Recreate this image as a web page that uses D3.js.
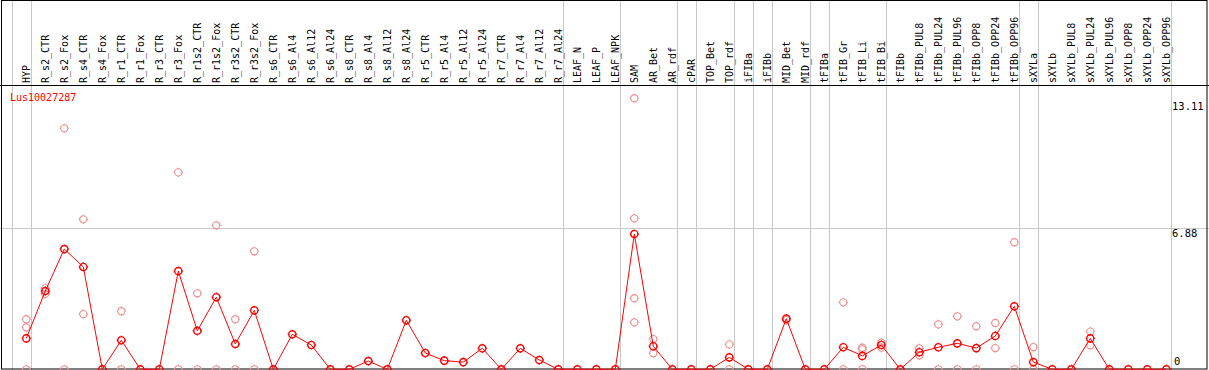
<!DOCTYPE html>
<html>
<head>
	<title>Lus10027287</title>
	<style>
		body { margin: 0; background: #fff; }
		text { font-family: "DejaVu Sans Mono", monospace; }
	</style>
</head>
<body>
<div id="chart"></div>
<script src="https://cdn.jsdelivr.net/npm/d3@7/dist/d3.min.js"></script>
<script type="text/javascript">

var gene = 'Lus10027287';

var labels = ['HYP', 'R_s2_CTR', 'R_s2_Fox', 'R_s4_CTR', 'R_s4_Fox', 'R_r1_CTR', 'R_r1_Fox',
    'R_r3_CTR', 'R_r3_Fox', 'R_r1s2_CTR', 'R_r1s2_Fox', 'R_r3s2_CTR', 'R_r3s2_Fox',
    'R_s6_CTR', 'R_s6_Al4', 'R_s6_Al12', 'R_s6_Al24', 'R_s8_CTR', 'R_s8_Al4', 'R_s8_Al12', 'R_s8_Al24',
    'R_r5_CTR', 'R_r5_Al4', 'R_r5_Al12', 'R_r5_Al24', 'R_r7_CTR', 'R_r7_Al4', 'R_r7_Al12', 'R_r7_Al24',
    'LEAF_N', 'LEAF_P', 'LEAF_NPK', 'SAM', 'AR_Bet', 'AR_rdf', 'cPAR', 'TOP_Bet', 'TOP_rdf',
    'iFIBa', 'iFIBb', 'MID_Bet', 'MID_rdf', 'tFIBa', 'tFIB_Gr', 'tFIB_Li', 'tFIB_Bi', 'tFIBb',
    'tFIBb_PUL8', 'tFIBb_PUL24', 'tFIBb_PUL96', 'tFIBb_OPP8', 'tFIBb_OPP24', 'tFIBb_OPP96',
    'sXYLa', 'sXYLb', 'sXYLb_PUL8', 'sXYLb_PUL24', 'sXYLb_PUL96', 'sXYLb_OPP8', 'sXYLb_OPP24', 'sXYLb_OPP96'];

// 平均值
var means = [1.50, 3.80, 5.84, 4.97, 0, 1.41, 0, 0, 4.77, 1.87, 3.50, 1.23, 2.86,
    0, 1.70, 1.18, 0, 0, 0.40, 0, 2.38, 0.79, 0.42, 0.35, 1.02, 0, 1.02, 0.45, 0,
    0, 0, 0, 6.57, 1.12, 0, 0, 0, 0.58, 0, 0, 2.46, 0, 0, 1.07, 0.65, 1.18, 0,
    0.83, 1.07, 1.26, 1.03, 1.62, 3.06, 0.35, 0, 0, 1.50, 0, 0, 0, 0];

// 重复样本 (visible ones only)
var replicates = [[2.43, 2.04, 0], [3.93, 3.66], [11.70, 0], [7.28, 2.68], [], [2.82, 0], [], [],
    [9.56, 0], [3.69, 0], [6.99, 0], [2.43, 0], [5.73, 0],
    [], [], [], [], [], [], [], [], [], [], [], [], [], [], [], [],
    [], [], [], [13.16, 7.33, 3.45, 2.28], [1.47, 0.78], [], [], [], [1.21, 0],
    [], [], [2.39], [], [], [3.25, 0], [1.05, 0.97, 0], [1.29, 1.05], [],
    [1.02, 0.68], [2.18, 0], [2.57, 0], [2.09, 0], [2.25, 1.03], [6.17, 0],
    [1.08, 0], [], [], [1.83, 1.17], [], [], [], []];

// group separators: drawn right after these column indexes
var separators = [-1, 0, 28, 31, 34, 35, 37, 38, 39, 41, 42, 45, 52, 53, 60];

var yTicks = [0, 6.88, 13.11];

var width = 1209, height = 370, headerBottom = 85.5;

var svg = d3.select('#chart')
.append('svg')
.attr('width', width)
.attr('height', height);

var xScale = d3.scaleLinear()
.domain([0, labels.length - 1])
.range([26.3, 1166.3]);

var yScale = d3.scaleLinear()
.domain([0, 13.11])
.range([369.3, 99.3]);

// 竖线
svg.selectAll('.sep')
.data(separators)
.enter()
.append('line')
.attr('x1', d => Math.round(xScale(d) + 4.4) + 0.5)
.attr('x2', d => Math.round(xScale(d) + 4.4) + 0.5)
.attr('y1', 0)
.attr('y2', height)
.attr('stroke', '#c8c8c8')
.attr('stroke-width', 1);

// 6.88 grid line
svg.append('line')
.attr('x1', 0)
.attr('x2', width)
.attr('y1', Math.round(yScale(6.88)) + 0.5)
.attr('y2', Math.round(yScale(6.88)) + 0.5)
.attr('stroke', '#c8c8c8');

// frame
svg.append('rect')
.attr('x', 1.5)
.attr('y', 0.5)
.attr('width', 1207 - 1.5)
.attr('height', 369 - 0.5)
.attr('fill', 'none')
.attr('stroke', '#000')
.attr('stroke-width', 1);

svg.append('line')
.attr('x1', 0)
.attr('x2', width)
.attr('y1', headerBottom)
.attr('y2', headerBottom)
.attr('stroke', '#000');

// column labels
svg.selectAll('.lab')
.data(labels)
.enter()
.append('text')
.attr('transform', (d, i) => 'translate(' + (xScale(i) + 3.2) + ',83) rotate(-90)')
.style('font-size', '10px')
.style('fill', '#000')
.text(d => d);

// y labels
svg.append('text')
.attr('x', 1172).attr('y', 110)
.style('font-size', '10.5px')
.text(d3.format('.2f')(yTicks[2]));

svg.append('text')
.attr('x', 1172).attr('y', Math.round(yScale(yTicks[1])) + 9)
.style('font-size', '10.5px')
.text(d3.format('.2f')(yTicks[1]));

svg.append('text')
.attr('x', 1174).attr('y', 365)
.style('font-size', '10.5px')
.text(yTicks[0]);

svg.append('text')
.attr('x', 10).attr('y', 101)
.style('font-size', '10px')
.style('fill', '#f00')
.text(gene);

// marker: circle with four small ticks
function marker(x, y) {
    var r = 3.6;
    return 'M' + (x + r) + ',' + y + 'A' + r + ',' + r + ' 0 1,1 ' + (x - r) + ',' + y +
        'A' + r + ',' + r + ' 0 1,1 ' + (x + r) + ',' + y +
        'M' + (x + r) + ',' + y + 'h1' +
        'M' + (x - r) + ',' + y + 'h-1' +
        'M' + x + ',' + (y - r) + 'v-1' +
        'M' + x + ',' + (y + r) + 'v1';
}

var repPoints = [];
replicates.forEach((arr, i) => {
    arr.forEach(v => repPoints.push({i: i, v: v}));
});

svg.selectAll('.rep')
.data(repPoints)
.enter()
.append('path')
.attr('d', d => marker(xScale(d.i), yScale(d.v)))
.attr('fill', 'none')
.attr('stroke', '#f08c8c')
.attr('stroke-width', 1.1);

var line = d3.line()
.x((d, i) => xScale(i))
.y(d => yScale(d));

svg.append('path')
.attr('d', line(means))
.attr('fill', 'none')
.attr('stroke', '#f00')
.attr('stroke-width', 1);

svg.selectAll('.mean')
.data(means)
.enter()
.append('path')
.attr('d', (d, i) => marker(xScale(i), yScale(d)))
.attr('fill', 'none')
.attr('stroke', '#f00')
.attr('stroke-width', 1.4);

</script>
</body>
</html>
